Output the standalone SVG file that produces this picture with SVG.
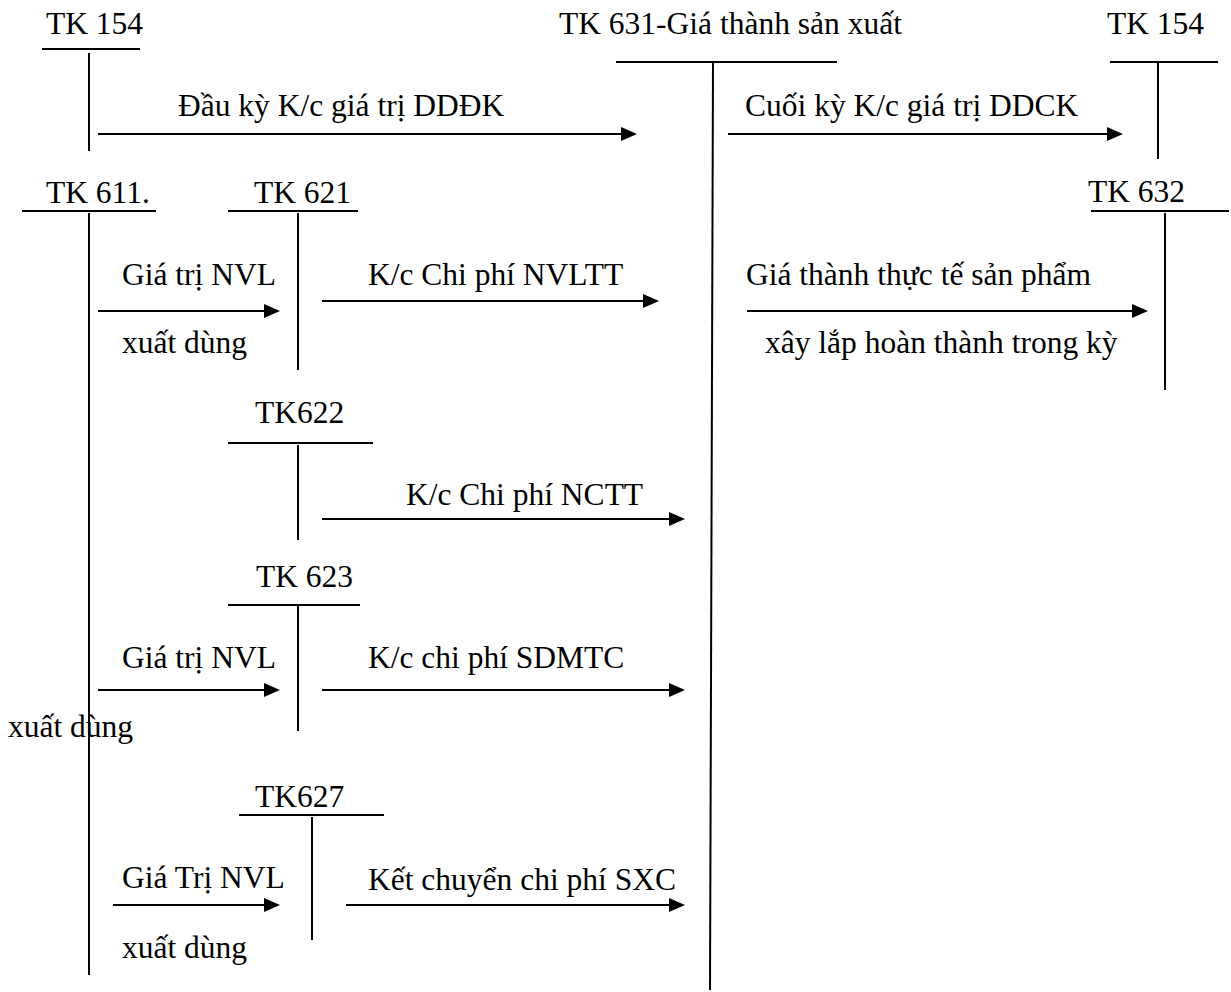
<svg xmlns="http://www.w3.org/2000/svg" width="1231" height="992" viewBox="0 0 1231 992">
<style>
text{font-family:"Liberation Serif","Times New Roman",serif;font-size:31.5px;fill:#000}
line{stroke:#000;stroke-width:2}
.arr{marker-end:url(#ah)}
</style>
<defs>
<marker id="ah" markerUnits="userSpaceOnUse" markerWidth="16" markerHeight="16" viewBox="0 0 16 16" refX="6" refY="8" orient="auto">
<path d="M0,1 L16,8 L0,15 z" fill="#000"/>
</marker>
</defs>
<rect width="1231" height="992" fill="#fff"/>
<g id="tk154-left">
<text x="46" y="34">TK 154</text>
<line x1="42" y1="49" x2="140" y2="49"/>
<line x1="89" y1="53" x2="89" y2="151"/>
</g>
<g id="tk631">
<text x="559" y="34">TK 631-Giá thành sản xuất</text>
<line x1="616" y1="62" x2="837" y2="62"/>
<line x1="713" y1="63" x2="710" y2="990"/>
</g>
<g id="tk154-right">
<text x="1107" y="34">TK 154</text>
<line x1="1110" y1="62" x2="1218" y2="62"/>
<line x1="1158" y1="63" x2="1158" y2="159"/>
</g>
<g id="tk632">
<text x="1088" y="202">TK 632</text>
<line x1="1091" y1="211" x2="1229" y2="211"/>
<line x1="1165" y1="213" x2="1165" y2="390"/>
</g>
<g id="tk611">
<text x="46" y="203">TK 611.</text>
<line x1="22" y1="211" x2="156" y2="211"/>
<line x1="89" y1="213" x2="89" y2="975"/>
</g>
<g id="tk621">
<text x="254" y="203">TK 621</text>
<line x1="228" y1="211" x2="358" y2="211"/>
<line x1="298" y1="213" x2="298" y2="370"/>
</g>
<g id="tk622">
<text x="255" y="423">TK622</text>
<line x1="228" y1="443" x2="373" y2="443"/>
<line x1="298" y1="445" x2="298" y2="540"/>
</g>
<g id="tk623">
<text x="256" y="587">TK 623</text>
<line x1="228" y1="605" x2="360" y2="605"/>
<line x1="298" y1="606" x2="298" y2="731"/>
</g>
<g id="tk627">
<text x="255" y="807">TK627</text>
<line x1="239" y1="815" x2="384" y2="815"/>
<line x1="312" y1="817" x2="312" y2="940"/>
</g>
<g id="connectors">
<line class="arr" x1="98" y1="134" x2="627" y2="134"/>
<text x="178" y="116">Đầu kỳ K/c giá trị DDĐK</text>
<line class="arr" x1="728" y1="134" x2="1113" y2="134"/>
<text x="745" y="116">Cuối kỳ K/c giá trị DDCK</text>
<line class="arr" x1="747" y1="311" x2="1138" y2="311"/>
<text x="746" y="285">Giá thành thực tế sản phẩm</text>
<text x="765" y="353">xây lắp hoàn thành trong kỳ</text>
<line class="arr" x1="98" y1="311" x2="270" y2="311"/>
<text x="122" y="285">Giá trị NVL</text>
<text x="122" y="353">xuất dùng</text>
<line class="arr" x1="322" y1="301" x2="649" y2="301"/>
<text x="368" y="285">K/c Chi phí NVLTT</text>
<line class="arr" x1="322" y1="519" x2="675" y2="519"/>
<text x="406" y="505">K/c Chi phí NCTT</text>
<line class="arr" x1="98" y1="690" x2="270" y2="690"/>
<text x="122" y="668">Giá trị NVL</text>
<text x="8" y="737">xuất dùng</text>
<line class="arr" x1="322" y1="690" x2="675" y2="690"/>
<text x="368" y="668">K/c chi phí SDMTC</text>
<line class="arr" x1="113" y1="905" x2="270" y2="905"/>
<text x="122" y="888">Giá Trị NVL</text>
<text x="122" y="958">xuất dùng</text>
<line class="arr" x1="346" y1="905" x2="675" y2="905"/>
<text x="368" y="890">Kết chuyển chi phí SXC</text>
</g>
</svg>
